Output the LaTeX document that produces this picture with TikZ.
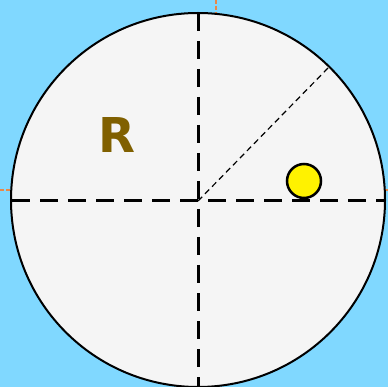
\documentclass[tikz,border=0pt]{standalone}
\usepackage{fontspec}
\newfontfamily\dejavu{DejaVu Sans}
\definecolor{bgblue}{HTML}{80D8FF}
\definecolor{disk}{HTML}{F5F5F5}
\definecolor{rbrown}{HTML}{806000}
\definecolor{guide}{HTML}{E8884A}
\begin{document}
\begin{tikzpicture}[x=1pt,y=-1pt,
  guideline/.style={guide, line width=1.5pt, dash pattern=on 4pt off 2pt},
  axisline/.style={black, line width=3pt, dash pattern=on 18pt off 10pt},
  radline/.style={black, line width=1.2pt, dash pattern=on 6pt off 4pt},
  ball/.style={circle, draw=black, line width=2.5pt, fill=yellow, minimum size=34pt, inner sep=0pt},
  label/.style={font=\dejavu\bfseries\fontsize{48}{48}\selectfont, text=rbrown, inner sep=0pt}]
\fill[bgblue] (0,0) rectangle (388,387);
\useasboundingbox (0,0) rectangle (388,387);
\coordinate (gt) at (216,0); \coordinate (gb) at (216,387);
\coordinate (gl) at (0,190); \coordinate (gr) at (388,190);
\draw[guideline] (gt) -- (gb);
\draw[guideline] (gl) -- (gr);
\coordinate (c) at (198,200);
\draw[black, line width=2pt, fill=disk] (c) circle[radius=187pt];
\coordinate (top) at (198,13); \coordinate (bot) at (198,387);
\coordinate (left) at (12,201); \coordinate (right) at (385,201);
\coordinate (o) at (198,201); \coordinate (rim) at (329,67);
\draw[axisline] (top) -- (bot);
\draw[axisline] (left) -- (right);
\draw[radline] (o) -- (rim);
\node[ball] (b) at (304,181) {};
\node[label] (r) at (117,135) {R};
\end{tikzpicture}
\end{document}
